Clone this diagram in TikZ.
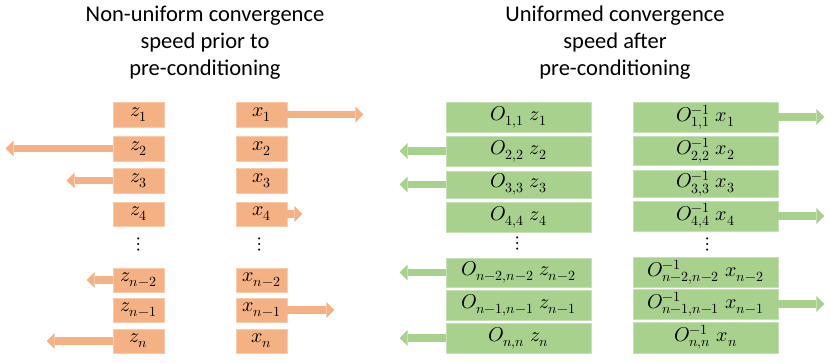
\documentclass[tikz,border=0pt]{standalone}
\usepackage{fontspec}
\usepackage{unicode-math}
\newfontfamily\capfont{Carlito}
\usetikzlibrary{arrows.meta,positioning}
\definecolor{peach}{HTML}{F4B183}
\definecolor{peachline}{HTML}{F8CBAD}
\definecolor{sage}{HTML}{A9D18E}
\definecolor{sageline}{HTML}{C5E0B4}
\newcommand{\boxfont}{\fontsize{20}{22}\selectfont}
% one box of a column: name, centre x, top, bottom, width, colour, label
\newcommand{\cell}[7]{%
  \node[fill=#6,draw=#6line,line width=.8pt,minimum width=#5pt,
    minimum height={(#4-#3)*1pt},inner sep=0pt,font=\boxfont]
    (#1) at (#2,{(#3+#4)/2}) {#7};
}
% a speed arrow out of a box: name, side, direction, length, colour
\newcommand{\speed}[5]{%
  \coordinate[#3=#4pt of #1.#2] (#1end);
  \draw[-{Triangle[length=8pt,width=16pt,line width=0pt]},line width=7.5pt,#5]
    (#1.#2) -- (#1end);
}

\begin{document}
\begin{tikzpicture}[x=1pt,y=-1pt]
  \useasboundingbox (0,0) rectangle (830,362);
  % titles, anchored on the baseline of their last line
  \node[font=\capfont\fontsize{22.5}{27}\selectfont,align=center,anchor=base,inner sep=0pt]
    (before) at (205,75) {Non-uniform convergence\\speed prior to\\pre-conditioning};
  \node[font=\capfont\fontsize{22.5}{27}\selectfont,align=center,anchor=base,inner sep=0pt]
    (after) at (615,75) {Uniformed convergence\\speed after\\pre-conditioning};
  % before pre-conditioning
  \cell{z1}{138.5}{102}{127}{51}{peach}{$z_1$}
  \cell{z2}{138.5}{136}{161}{51}{peach}{$z_2$}
  \cell{z3}{138.5}{168}{193}{51}{peach}{$z_3$}
  \cell{z4}{138.5}{202}{226}{51}{peach}{$z_4$}
  \cell{zn2}{138.5}{268}{292}{51}{peach}{$z_{n-2}$}
  \cell{zn1}{138.5}{298}{322}{51}{peach}{$z_{n-1}$}
  \cell{zn}{138.5}{329}{353}{51}{peach}{$z_n$}
  \cell{x1}{261.5}{102}{127}{51}{peach}{$x_1$}
  \cell{x2}{261.5}{136}{161}{51}{peach}{$x_2$}
  \cell{x3}{261.5}{168}{193}{51}{peach}{$x_3$}
  \cell{x4}{261.5}{202}{226}{51}{peach}{$x_4$}
  \cell{xn2}{261.5}{268}{292}{51}{peach}{$x_{n-2}$}
  \cell{xn1}{261.5}{298}{322}{51}{peach}{$x_{n-1}$}
  \cell{xn}{261.5}{329}{353}{51}{peach}{$x_n$}
  \node[font=\fontsize{20}{20}\selectfont,inner sep=0pt] (zdots) at (139,244) {$⋮$};
  \node[font=\fontsize{20}{20}\selectfont,inner sep=0pt] (xdots) at (260,244) {$⋮$};
  \speed{z2}{west}{left}{107}{peach}
  \speed{z3}{west}{left}{46}{peach}
  \speed{zn2}{west}{left}{26}{peach}
  \speed{zn}{west}{left}{66}{peach}
  \speed{x1}{east}{right}{76}{peach}
  \speed{x4}{east}{right}{15}{peach}
  \speed{xn1}{east}{right}{47}{peach}
  % after pre-conditioning
  \cell{oz1}{518.5}{102}{132}{145}{sage}{$O_{1,1}\ z_1$}
  \cell{oz2}{518.5}{136}{166}{145}{sage}{$O_{2,2}\ z_2$}
  \cell{oz3}{518.5}{171}{198}{145}{sage}{$O_{3,3}\ z_3$}
  \cell{oz4}{518.5}{202}{232}{145}{sage}{$O_{4,4}\ z_4$}
  \cell{ozn2}{518.5}{258}{287}{145}{sage}{$O_{n-2,n-2}\ z_{n-2}$}
  \cell{ozn1}{518.5}{290}{320}{145}{sage}{$O_{n-1,n-1}\ z_{n-1}$}
  \cell{ozn}{518.5}{323}{353}{145}{sage}{$O_{n,n}\ z_n$}
  \cell{ox1}{705.5}{102}{132}{145}{sage}{$O^{-1}_{1,1}\ x_1$}
  \cell{ox2}{705.5}{136}{165}{145}{sage}{$O^{-1}_{2,2}\ x_2$}
  \cell{ox3}{705.5}{170}{197}{145}{sage}{$O^{-1}_{3,3}\ x_3$}
  \cell{ox4}{705.5}{201}{231}{145}{sage}{$O^{-1}_{4,4}\ x_4$}
  \cell{oxn2}{705.5}{257}{287}{145}{sage}{$O^{-1}_{n-2,n-2}\ x_{n-2}$}
  \cell{oxn1}{705.5}{289}{319}{145}{sage}{$O^{-1}_{n-1,n-1}\ x_{n-1}$}
  \cell{oxn}{705.5}{322}{353}{145}{sage}{$O^{-1}_{n,n}\ x_n$}
  \node[font=\fontsize{20}{20}\selectfont,inner sep=0pt] (ozdots) at (518,243) {$⋮$};
  \node[font=\fontsize{20}{20}\selectfont,inner sep=0pt] (oxdots) at (708,244) {$⋮$};
  \speed{oz2}{west}{left}{46}{sage}
  \speed{oz3}{west}{left}{46}{sage}
  \speed{ozn2}{west}{left}{46}{sage}
  \speed{ozn}{west}{left}{46}{sage}
  \speed{ox1}{east}{right}{46}{sage}
  \speed{ox4}{east}{right}{46}{sage}
  \speed{oxn1}{east}{right}{46}{sage}
\end{tikzpicture}
\end{document}
